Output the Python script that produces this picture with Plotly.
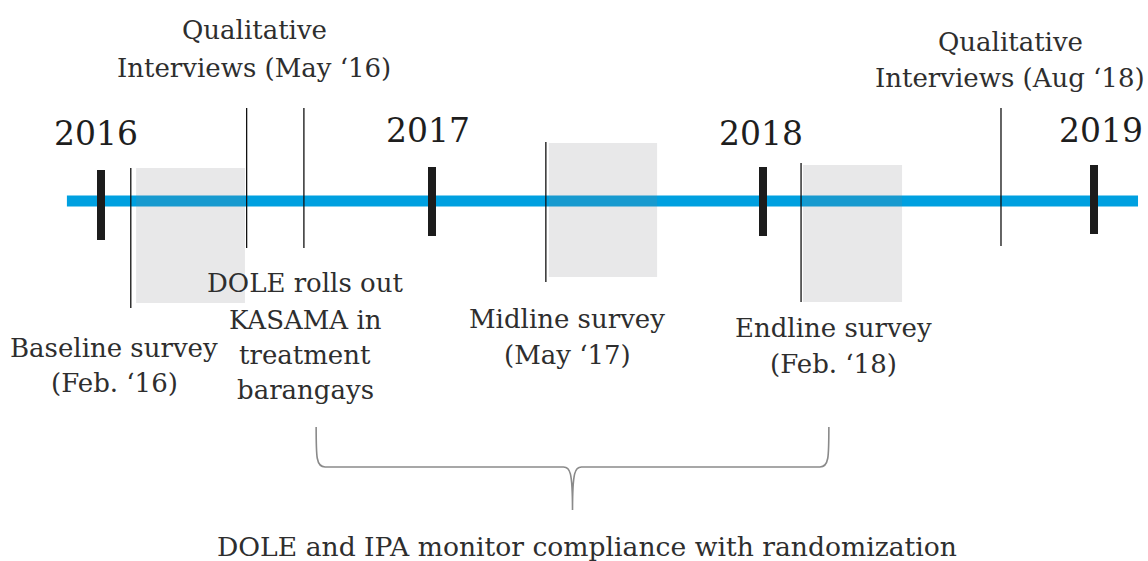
import plotly.graph_objects as go

# ---- data (timeline in decimal years) ----
years = [2016, 2017, 2018, 2019]
year_labels = ["2016", "2017", "2018", "2019"]

event_dates = [2016.09, 2016.44, 2016.613, 2017.344, 2018.115, 2018.719]
survey_starts = [2016.106, 2017.353, 2018.121]
survey_ends = [2016.435, 2017.68, 2018.42]
timeline_start, timeline_end = 2015.897, 2019.133
brace_start, brace_end = 2016.65, 2018.199

labels_above = [
    ["Qualitative", "Interviews (May \u201816)"],
    ["Qualitative", "Interviews (Aug \u201818)"],
]
labels_below = [
    ["Baseline survey", "(Feb. \u201816)"],
    ["DOLE rolls out", "KASAMA in", "treatment", "barangays"],
    ["Midline survey", "(May \u201817)"],
    ["Endline survey", "(Feb. \u201818)"],
]
bottom_label = "DOLE and IPA monitor compliance with randomization"

# ---- layout helpers (positions/styles) ----
PX = 331.0  # pixels per year
X0 = 2016 - 101 / PX
X1 = 2016 + 1047 / PX
FONT = "DejaVu Serif"
TXT = "#2e2e2e"
FS = 26

fig = go.Figure()
fig.add_trace(go.Scatter(x=[X0, X1], y=[0, 0], mode="markers",
                         marker=dict(opacity=0), hoverinfo="skip", showlegend=False))

shapes = []
# timeline
shapes.append(dict(type="line", x0=timeline_start, x1=timeline_end, y0=201, y1=201,
                   line=dict(color="#00A0E0", width=11), layer="above"))
# survey periods (shaded)
rect_y = [(168, 303), (143, 277), (165, 302)]
for s, e, (ya, yb) in zip(survey_starts, survey_ends, rect_y):
    shapes.append(dict(type="rect", x0=s, x1=e, y0=ya, y1=yb,
                       fillcolor="rgba(125,128,132,0.18)", line=dict(width=0), layer="above"))
# year ticks
tick_y = [(170, 240), (167, 236), (167, 236), (165, 234)]
for yv, (ya, yb) in zip(years, tick_y):
    shapes.append(dict(type="line", x0=yv, x1=yv, y0=ya, y1=yb,
                       line=dict(color="#1c1c1c", width=8), layer="above"))
# event lines
ev_y = [(168, 308), (108, 248), (108, 248), (142, 282), (163, 302), (108, 246)]
for d, (ya, yb) in zip(event_dates, ev_y):
    shapes.append(dict(type="line", x0=d, x1=d, y0=ya, y1=yb,
                       line=dict(color="#111111", width=1.3), layer="above"))
# brace
mid = (brace_start + brace_end) / 2
c = 9 / PX
top, hy, bot = 427, 467, 510
path = (f"M {brace_start},{top} C {brace_start},{hy-10} {brace_start},{hy} {brace_start+c},{hy} "
        f"L {mid-c},{hy} C {mid-c*0.3},{hy} {mid},{hy+4} {mid},{bot} "
        f"C {mid},{hy+4} {mid+c*0.3},{hy} {mid+c},{hy} "
        f"L {brace_end-c},{hy} C {brace_end},{hy} {brace_end},{hy-10} {brace_end},{top}")
shapes.append(dict(type="path", path=path, line=dict(color="#8a8a8a", width=1.6)))

ann = []
year_cx = [2016 - 5 / PX, 2017 - 4 / PX, 2018 - 2 / PX, 2019 + 7 / PX]
year_cy = [133, 130, 133, 130]
for lab, xc, yc in zip(year_labels, year_cx, year_cy):
    ann.append(dict(x=xc, y=yc, text=lab, showarrow=False, xanchor="center", yanchor="middle",
                    font=dict(family=FONT, size=33, color="#1e1e1e")))

above_cx = [2016 + 153 / PX, 2018 + 247 / PX]
above_cy = [(30, 68), (42, 78)]
below_cx = [2016 + 13 / PX, 2016 + 204 / PX, 2017 + 135 / PX, 2018 + 70 / PX]
below_cy = [(348, 383), (283, 320, 355, 390), (319, 355), (328, 364)]
for lines, xc, ys in zip(labels_above + labels_below, above_cx + below_cx, above_cy + below_cy):
    for t, yc in zip(lines, ys):
        ann.append(dict(x=xc, y=yc, text=t, showarrow=False, xanchor="center", yanchor="middle",
                        font=dict(family=FONT, size=FS, color=TXT)))
ann.append(dict(x=2016 + 486 / PX, y=546, text=bottom_label, showarrow=False, xanchor="center",
                yanchor="middle", font=dict(family=FONT, size=26.6, color=TXT)))

fig.update_layout(
    width=1148, height=561, margin=dict(l=0, r=0, t=0, b=0),
    paper_bgcolor="white", plot_bgcolor="white",
    xaxis=dict(range=[X0, X1], visible=False, fixedrange=True),
    yaxis=dict(range=[561, 0], visible=False, fixedrange=True),
    shapes=shapes, annotations=ann, showlegend=False,
)
fig.write_html("out.html", config={"displayModeBar": False},
               post_script="document.body.style.margin='0';document.body.style.overflow='hidden';")
